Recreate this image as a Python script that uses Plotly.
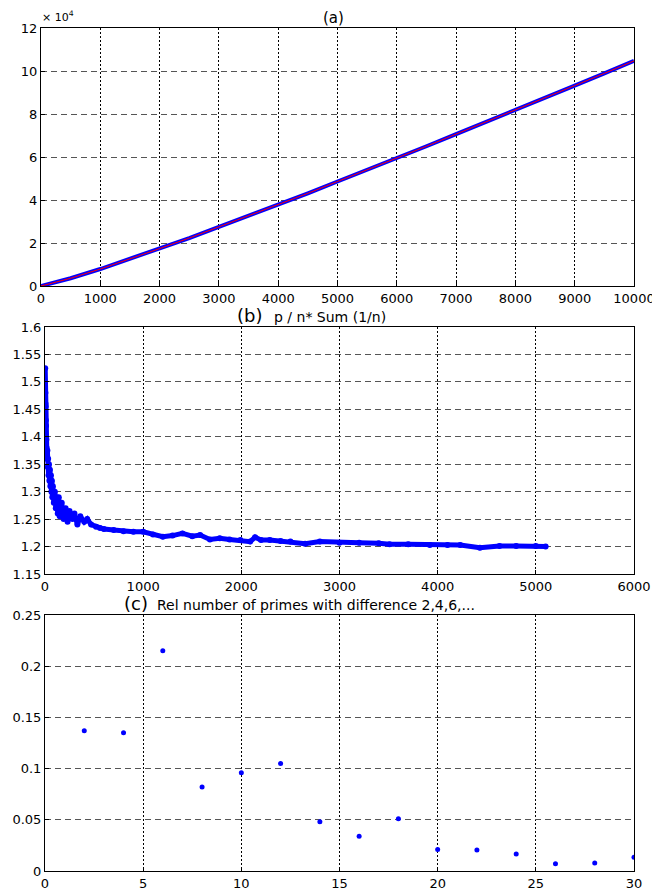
import plotly.graph_objects as go

# ---- Panel (a): n-th prime vs n ----
a_n = [0, 500, 1000, 1500, 2000, 2500, 3000, 3500, 4000, 4500, 5000,
       5500, 6000, 6500, 7000, 7500, 8000, 8500, 9000, 9500, 10000]
a_blue = [0, 3600, 7900, 12550, 17400, 22300, 27450, 32600, 37800, 43100, 48600,
          54000, 59350, 65000, 70650, 76200, 81800, 87500, 93200, 98900, 104700]
a_red = [0, 3600, 7900, 12550, 17400, 22300, 27450, 32600, 37800, 43100, 48600,
         54000, 59350, 65000, 70650, 76200, 81800, 87500, 93200, 98900, 104700]
a_yticks = [0, 20000, 40000, 60000, 80000, 100000, 120000]
a_yticktext = ["0", "2", "4", "6", "8", "10", "12"]
a_xticks = [0, 1000, 2000, 3000, 4000, 5000, 6000, 7000, 8000, 9000, 10000]
a_xticktext = ["0", "1000", "2000", "3000", "4000", "5000", "6000", "7000", "8000", "9000", "10000"]

# ---- Panel (b): p / n* Sum(1/n) ----
b_x = [2, 4, 5, 7, 8, 10, 12, 14, 16, 18, 20, 24, 28, 32, 36, 40, 45, 50, 55, 60, 65,
       70, 75, 80, 90, 100, 110, 120, 130, 140, 150, 170, 190, 210, 230, 250, 280,
       300, 330, 360, 400, 430, 470, 520, 560, 600, 700, 800, 900, 1000, 1100, 1200,
       1300, 1400, 1500, 1580, 1680, 1780, 1880, 1990, 2090, 2140, 2200, 2290, 2400,
       2500, 2650, 2800, 3000, 3200, 3400, 3510, 3700, 3920, 4100, 4230, 4430, 4630,
       4800, 5000, 5100]
b_y = [1.525, 1.48, 1.46, 1.455, 1.43, 1.42, 1.40, 1.395, 1.38, 1.37, 1.36, 1.375,
       1.345, 1.36, 1.33, 1.35, 1.32, 1.34, 1.31, 1.33, 1.30, 1.32, 1.29, 1.31, 1.28,
       1.30, 1.27, 1.29, 1.26, 1.29, 1.255, 1.28, 1.25, 1.27, 1.245, 1.265, 1.25,
       1.26, 1.24, 1.255, 1.245, 1.25, 1.24, 1.236, 1.234, 1.232, 1.23, 1.228,
       1.227, 1.227, 1.222, 1.218, 1.22, 1.224, 1.219, 1.221, 1.213, 1.215, 1.213,
       1.212, 1.209, 1.217, 1.212, 1.212, 1.21, 1.209, 1.205, 1.209, 1.207, 1.207,
       1.206, 1.204, 1.204, 1.203, 1.203, 1.203, 1.198, 1.201, 1.201, 1.201, 1.200]
b_yticks = [1.15, 1.2, 1.25, 1.3, 1.35, 1.4, 1.45, 1.5, 1.55, 1.6]
b_yticktext = ["1.15", "1.2", "1.25", "1.3", "1.35", "1.4", "1.45", "1.5", "1.55", "1.6"]
b_xticks = [0, 1000, 2000, 3000, 4000, 5000, 6000]
b_xticktext = ["0", "1000", "2000", "3000", "4000", "5000", "6000"]

# ---- Panel (c): relative number of primes with difference 2,4,6,... ----
c_x = [2, 4, 6, 8, 10, 12, 14, 16, 18, 20, 22, 24, 26, 28, 30]
c_y = [0.137, 0.135, 0.215, 0.082, 0.096, 0.105, 0.048, 0.034, 0.051,
       0.021, 0.0205, 0.0166, 0.0071, 0.0078, 0.0134]
c_yticks = [0, 0.05, 0.1, 0.15, 0.2, 0.25]
c_yticktext = ["0", "0.05", "0.1", "0.15", "0.2", "0.25"]
c_xticks = [0, 5, 10, 15, 20, 25, 30]
c_xticktext = ["0", "5", "10", "15", "20", "25", "30"]

# the page body has an 8px margin: the figure starts 8px right and down
OFF = 8
W, H = 660, 891
BLUE = "rgb(0,0,255)"
FONT = "DejaVu Sans"


def px_x(p):
    return (p - OFF) / W


def px_y(p):
    return 1 - (p - OFF) / H


fig = go.Figure()

fig.add_trace(go.Scatter(x=a_n, y=a_blue, mode="lines", line=dict(color=BLUE, width=4),
                         xaxis="x", yaxis="y", showlegend=False))
fig.add_trace(go.Scatter(x=a_n, y=a_red, mode="lines", line=dict(color="red", width=1),
                         xaxis="x", yaxis="y", showlegend=False))
fig.add_trace(go.Scatter(x=b_x, y=b_y, mode="lines+markers",
                         line=dict(color=BLUE, width=5),
                         marker=dict(color=BLUE, size=6),
                         xaxis="x2", yaxis="y2", showlegend=False))
fig.add_trace(go.Scatter(x=c_x, y=c_y, mode="markers",
                         marker=dict(color=BLUE, size=5),
                         xaxis="x3", yaxis="y3", showlegend=False))

common_x = dict(showline=True, mirror=True, linecolor="black", linewidth=1,
                ticks="inside", ticklen=4, tickcolor="black", automargin=False,
                ticklabeloverflow="allow",
                showgrid=True, gridcolor="black", griddash="2px,2px", gridwidth=1,
                zeroline=False, tickfont=dict(family=FONT, size=13, color="black"))
common_y = dict(showline=True, mirror=True, linecolor="black", linewidth=1,
                ticks="inside", ticklen=4, tickcolor="black", automargin=False,
                ticklabeloverflow="allow",
                showgrid=True, gridcolor="#555555", griddash="6px,4px", gridwidth=1,
                zeroline=False, tickfont=dict(family=FONT, size=13, color="black"))

fig.update_layout(
    width=W, height=H,
    margin=dict(l=0, r=0, t=0, b=0, autoexpand=False),
    paper_bgcolor="white", plot_bgcolor="white",
    xaxis=dict(domain=[px_x(41), px_x(634)], anchor="y", range=[0, 10000],
               tickvals=a_xticks, ticktext=a_xticktext, **common_x),
    yaxis=dict(domain=[px_y(286), px_y(28)], anchor="x", range=[0, 120000],
               tickvals=a_yticks, ticktext=a_yticktext, **common_y),
    xaxis2=dict(domain=[px_x(45), px_x(634)], anchor="y2", range=[0, 6000],
                tickvals=b_xticks, ticktext=b_xticktext, **common_x),
    yaxis2=dict(domain=[px_y(574), px_y(327)], anchor="x2", range=[1.15, 1.6],
                tickvals=b_yticks, ticktext=b_yticktext, **common_y),
    xaxis3=dict(domain=[px_x(45), px_x(634)], anchor="y3", range=[0, 30],
                tickvals=c_xticks, ticktext=c_xticktext, **common_x),
    yaxis3=dict(domain=[px_y(871), px_y(615)], anchor="x3", range=[0, 0.25],
                tickvals=c_yticks, ticktext=c_yticktext, **common_y),
)


def note(text, xp, yp, size, xanchor):
    return dict(text=text, x=px_x(xp), y=px_y(yp), xref="paper", yref="paper",
                xanchor=xanchor, yanchor="bottom", showarrow=False,
                font=dict(family=FONT, size=size, color="black"))


annotations = [
    note("(a)", 333, 29, 15, "center"),
    note("× 10<sup>4</sup>", 40, 26, 11, "left"),
    note("(b)", 264, 328, 18, "right"),
    note("p / n* Sum (1/n)", 272, 327, 14, "left"),
    note("(c)", 150, 616, 18, "right"),
    note("Rel number of primes with difference 2,4,6,...", 155, 615, 14, "left"),
]
fig.update_layout(annotations=annotations)

fig.write_html("out.html")
